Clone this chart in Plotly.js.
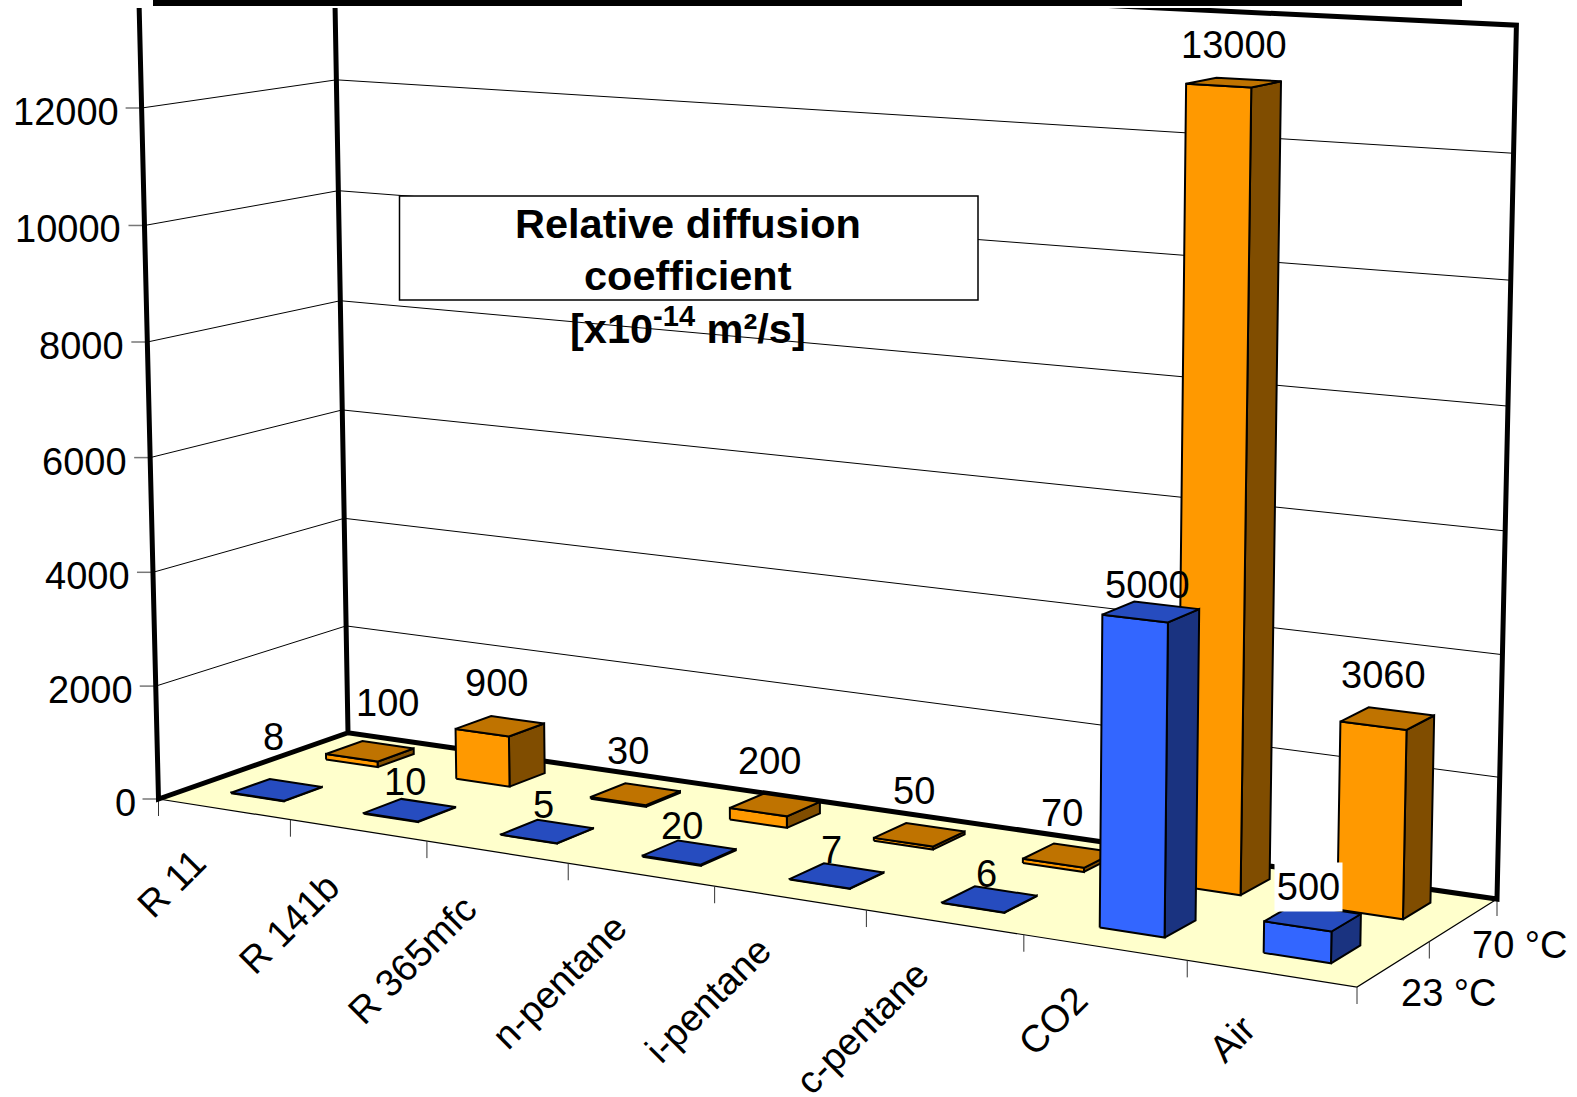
<!DOCTYPE html>
<html>
<head>
<meta charset="utf-8">
<script src="https://cdn.plot.ly/plotly-3.0.1.min.js"></script>
<style>html,body{margin:0;padding:0;background:#fff}</style>
</head>
<body>
<div id="chart" style="width:1577px;height:1097px"></div>
<script>
// Diffusion coefficients of blowing agents, x10^-14 m2/s
const categories = ['R 11', 'R 141b', 'R 365mfc', 'n-pentane', 'i-pentane', 'c-pentane', 'CO2', 'Air'];
const series23C = [8, 10, 5, 20, 7, 6, 5000, 500];
const series70C = [100, 900, 30, 200, 50, 70, 13000, 3060];
const seriesNames = ['23 °C', '70 °C'];
const valueTicks = [0, 2000, 4000, 6000, 8000, 10000, 12000];
const valueMax = 14000;

// Centres of the rotated category labels
const categoryLabelXY = [[171, 884], [289, 924], [412, 960], [559, 982], [708, 1000], [862, 1028], [1053, 1021], [1232, 1039]];
// Centres of the value labels, per series
const label23XY = [[273, 737], [405, 782], [543, 805], [682, 826], [831, 850], [986, 874], [1147, 585], [1308, 887]];
const label70XY = [[387, 703], [496, 683], [628, 751], [769, 761], [914, 791], [1062, 813], [1234, 45], [1383, 675]];

const COLORS = {
  blue: {front: '#3366ff', top: '#264cbf', side: '#1a3380'},
  orange: {front: '#ff9900', top: '#bf7300', side: '#804d00'},
  floor: '#ffffcc'
};
const FONT = 'Liberation Sans, Arial, sans-serif';
const LABEL_SIZE = 38;

// Oblique view: floor corners and the vanishing point of the vertical direction
const floorA = [158.5, 799], floorB = [1357, 987], floorC = [1497, 899], floorD = [348, 732.7];
const vertical = [861, 29533];

const view = (function () {
  const dx1 = floorB[0] - floorC[0], dx2 = floorD[0] - floorC[0], sx = floorA[0] - floorB[0] + floorC[0] - floorD[0];
  const dy1 = floorB[1] - floorC[1], dy2 = floorD[1] - floorC[1], sy = floorA[1] - floorB[1] + floorC[1] - floorD[1];
  const den = dx1 * dy2 - dx2 * dy1;
  const g = (sx * dy2 - dx2 * sy) / den, h = (dx1 * sy - sx * dy1) / den;
  const a = floorB[0] - floorA[0] + g * floorB[0], b = floorD[0] - floorA[0] + h * floorD[0], c = floorA[0];
  const d = floorB[1] - floorA[1] + g * floorB[1], e = floorD[1] - floorA[1] + h * floorD[1], f = floorA[1];
  // Height scale: 12000 on the front left edge reaches y = 108
  const k = -(floorA[1] - 108) / (vertical[1] - 108) / 12000;
  return {a, b, c, d, e, f, g, h, k};
})();

// Category position (0..n), depth (0..1) and value to plot coordinates
function project(u, depth, value) {
  const s = u / categories.length, m = view;
  const t = value * m.k;
  const w = m.g * s + m.h * depth + 1 + t;
  return [
    (m.a * s + m.b * depth + m.c + t * vertical[0]) / w,
    (m.d * s + m.e * depth + m.f + t * vertical[1]) / w
  ];
}

const traces = [];
function poly(points, opts) {
  const closed = opts.fill ? points.concat([points[0]]) : points;
  traces.push({
    type: 'scatter', mode: 'lines', hoverinfo: 'skip', showlegend: false,
    x: closed.map(p => p[0]), y: closed.map(p => p[1]),
    fill: opts.fill ? 'toself' : 'none', fillcolor: opts.fill,
    line: {color: opts.color || '#000', width: opts.width === undefined ? 1 : opts.width, simplify: false}
  });
}

// Floor and its thin front and right edges
poly([project(0, 0, 0), project(8, 0, 0), project(8, 1, 0), project(0, 1, 0)], {fill: COLORS.floor, width: 0, color: COLORS.floor});
poly([project(0, 0, 0), project(8, 0, 0), project(8, 1, 0)], {width: 1.2});

// Ticks below the floor and beside the left wall
for (let i = 0; i <= categories.length; i++) {
  const p = project(i, 0, 0);
  poly([p, [p[0], p[1] + 17]], {width: 1, color: '#333'});
}
[0.5, 1].forEach(dp => {
  const p = project(8, dp, 0);
  poly([p, [p[0], p[1] + 17]], {width: 1, color: '#333'});
});
valueTicks.forEach(v => {
  const p = project(0, 0, v);
  poly([[p[0] - 16, p[1]], p], {width: 1.5, color: '#777'});
});

// Gridlines across the two walls
valueTicks.slice(1).forEach(v => {
  poly([project(0, 0, v), project(0, 1, v), project(8, 1, v)], {width: 1});
});

// Heavy wall frame
poly([project(0, 0, valueMax), project(0, 0, 0), project(0, 1, 0), project(8, 1, 0), project(8, 1, valueMax), project(0, 1, valueMax), project(0, 1, 0)], {width: 5});

// Columns, back row first
const HALF_U = 0.2, HALF_D = 0.1, ROW_DEPTH = [0.27, 0.77];
function column(i, depth, value, palette) {
  const c = i + 0.5, u0 = c - HALF_U, u1 = c + HALF_U, d0 = depth - HALF_D, d1 = depth + HALF_D;
  const line = {width: 2};
  poly([project(u1, d0, 0), project(u1, d1, 0), project(u1, d1, value), project(u1, d0, value)], {fill: palette.side, ...line});
  poly([project(u0, d0, 0), project(u1, d0, 0), project(u1, d0, value), project(u0, d0, value)], {fill: palette.front, ...line});
  poly([project(u0, d0, value), project(u1, d0, value), project(u1, d1, value), project(u0, d1, value)], {fill: palette.top, ...line});
}
series70C.forEach((v, i) => column(i, ROW_DEPTH[1], v, COLORS.orange));
series23C.forEach((v, i) => column(i, ROW_DEPTH[0], v, COLORS.blue));

const textNote = (text, x, y, extra) => Object.assign({
  text: String(text), x, y, xref: 'x', yref: 'y', showarrow: false,
  xanchor: 'center', yanchor: 'middle', borderpad: 0,
  font: {family: FONT, size: LABEL_SIZE, color: '#000'}
}, extra || {});

const annotations = [];
valueTicks.forEach(v => {
  const p = project(0, 0, v);
  annotations.push(textNote(v, p[0] - 22, p[1] + 4, {xanchor: 'right'}));
});
categories.forEach((name, i) => {
  annotations.push(textNote(name, categoryLabelXY[i][0], categoryLabelXY[i][1], {textangle: -45}));
});
annotations.push(textNote(seriesNames[0], 1448, 993));
annotations.push(textNote(seriesNames[1], 1519, 945));
series23C.forEach((v, i) => {
  const extra = v === 500 ? {bgcolor: '#fff', width: 67, height: 48} : {};
  annotations.push(textNote(v, label23XY[i][0], label23XY[i][1], extra));
});
series70C.forEach((v, i) => annotations.push(textNote(v, label70XY[i][0], label70XY[i][1])));

// Caption box; its third line runs below the frame
const captionFont = {family: FONT, size: 41.5, color: '#000'};
annotations.push(textNote('<b>Relative diffusion</b>', 688, 223, {font: captionFont}));
annotations.push(textNote('<b>coefficient</b>', 688, 275, {font: captionFont}));
annotations.push(textNote('<b>[x10<sup>-14</sup> m²/s]</b>', 688, 326, {font: captionFont}));

const shapes = [
  {type: 'rect', xref: 'x', yref: 'y', x0: 399.5, x1: 978, y0: 196, y1: 300, fillcolor: '#fff', line: {color: '#000', width: 1.5}, layer: 'above'},
  {type: 'rect', xref: 'x', yref: 'y', x0: 0, x1: 1577, y0: 0, y1: 8, fillcolor: '#fff', line: {width: 0}, layer: 'above'},
  {type: 'rect', xref: 'x', yref: 'y', x0: 153, x1: 1462, y0: 0, y1: 6, fillcolor: '#000', line: {width: 0}, layer: 'above'}
];

const layout = {
  width: 1577, height: 1097, margin: {l: 0, r: 0, t: 0, b: 0},
  paper_bgcolor: '#fff', plot_bgcolor: '#fff', showlegend: false,
  xaxis: {range: [0, 1577], visible: false, fixedrange: true},
  yaxis: {range: [1097, 0], visible: false, fixedrange: true},
  shapes, annotations
};
Plotly.newPlot('chart', traces, layout, {staticPlot: true, displayModeBar: false});
</script>
</body>
</html>
